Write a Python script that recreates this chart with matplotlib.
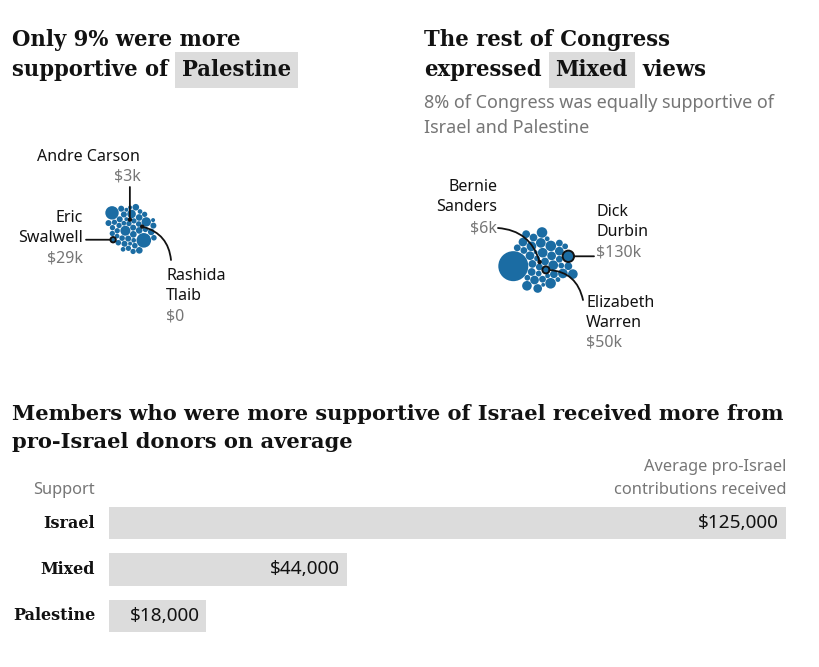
import numpy as np
import matplotlib
matplotlib.use("Agg")
import matplotlib.pyplot as plt
from matplotlib.patches import Circle

# ---------------- data ----------------
# Average pro-Israel contributions by support group
support_cats = ["Israel", "Mixed", "Palestine"]
avg_contrib = [125000, 44000, 18000]

# Pro-Israel contributions ($k) received by members more supportive of Palestine
palestine_vals = [36, 100, 28, 44, 22, 31, 36, 16, 44, 28, 28, 22, 36, 0, 31, 3,
                  213, 28, 44, 16, 36, 28, 22, 74, 31, 28, 88, 36, 16, 44, 28, 22,
                  28, 180, 36, 31, 16, 44, 28, 28, 22, 36, 31, 29, 44, 28, 36, 16]
palestine_named = {"Rashida Tlaib": 0, "Andre Carson": 3, "Eric Swalwell": 29}

# Pro-Israel contributions ($k) received by members with mixed views
mixed_vals = [60, 6, 93, 50, 33, 75, 46, 15, 93, 60, 112, 23, 75, 46, 33, 93,
              60, 900, 75, 46, 93, 33, 60, 23, 112, 46, 130, 75, 60, 93, 33, 46,
              15, 75, 60, 93, 112, 23, 46, 33, 75, 60, 93]
mixed_named = {"Bernie Sanders": 6, "Dick Durbin": 130, "Elizabeth Warren": 50}

# ---------------- style ----------------
W, H = 819, 667
BLUE = "#1b6ca3"
GREY_BAR = "#dcdcdc"
GREY_TXT = "#767676"
INK = "#121212"
SERIF = "DejaVu Serif"
SANS = "Noto Sans"


def pt(px):
    return px * 0.72


def radius(v):
    return np.maximum(1.2, 0.5 * np.sqrt(np.asarray(v, float)))


def resolve(x, y, r2, re, sweeps):
    n = len(x)
    for _ in range(sweeps):
        for k in range(n):
            dx = x - x[k]
            dy = y - y[k]
            d = np.hypot(dx, dy)
            d[k] = np.inf
            ov = re + re[k] - d
            m = ov > 0
            if not m.any():
                continue
            ux = dx[m] / d[m]
            uy = dy[m] / d[m]
            o = ov[m]
            wk = r2[m] / (r2[k] + r2[m])
            x[k] -= (o * wk * ux).sum()
            y[k] -= (o * wk * uy).sum()
            x[m] += o * (1 - wk) * ux
            y[m] += o * (1 - wk) * uy


def pack(vals, pad=0.35, spread=0.9, iters=80):
    """Greedy tangent packing towards phyllotaxis targets, then gentle compaction."""
    r = radius(vals)
    re = r + pad / 2
    n = len(r)
    idx = np.arange(n)
    R = np.sqrt((re ** 2).sum() / 0.82)
    s = spread * R / np.sqrt(n)
    a = idx * np.pi * (3 - np.sqrt(5))
    tx = s * np.sqrt(idx + 0.5) * np.cos(a)
    ty = s * np.sqrt(idx + 0.5) * np.sin(a)
    x = np.zeros(n)
    y = np.zeros(n)
    x[0], y[0] = tx[0], ty[0]
    for k in range(1, n):
        px, py, pr = x[:k], y[:k], re[:k] + re[k]
        vx, vy = tx[k] - px, ty[k] - py
        vn = np.hypot(vx, vy) + 1e-9
        cx = [px + vx / vn * pr]
        cy = [py + vy / vn * pr]
        if k >= 2:
            I, J = np.triu_indices(k, 1)
            dx, dy = px[J] - px[I], py[J] - py[I]
            d = np.hypot(dx, dy)
            A, B = pr[I], pr[J]
            ok = (d > 1e-9) & (d <= A + B)
            I, dx, dy, d, A, B = I[ok], dx[ok], dy[ok], d[ok], A[ok], B[ok]
            L = (A ** 2 - B ** 2 + d ** 2) / (2 * d)
            h = np.sqrt(np.clip(A ** 2 - L ** 2, 0, None))
            bx_ = px[I] + L * dx / d
            by_ = py[I] + L * dy / d
            ox, oy = -dy / d * h, dx / d * h
            cx += [bx_ + ox, bx_ - ox]
            cy += [by_ + oy, by_ - oy]
        cx = np.concatenate(cx)
        cy = np.concatenate(cy)
        dd = np.hypot(cx[:, None] - px[None, :], cy[:, None] - py[None, :])
        valid = (dd >= pr[None, :] - 1e-6).all(1)
        cx, cy = cx[valid], cy[valid]
        j = np.argmin(np.hypot(cx - tx[k], cy - ty[k]))
        x[k], y[k] = cx[j], cy[j]
    # compaction: circles drift to the centroid, big ones more slowly
    r2 = r ** 2
    mob = np.minimum(1.0, 3.0 / r) * 0.25
    for _ in range(iters):
        gx, gy = x.mean(), y.mean()
        dx, dy = gx - x, gy - y
        d = np.hypot(dx, dy) + 1e-9
        step = np.minimum(mob, d)
        x += dx / d * step
        y += dy / d * step
        resolve(x, y, r2, re, 2)
    resolve(x, y, r2, re, 15)
    ccx = ((x - r).min() + (x + r).max()) / 2
    ccy = ((y - r).min() + (y + r).max()) / 2
    return x - ccx, y - ccy, r


fig = plt.figure(figsize=(W / 100, H / 100), dpi=100)
ax = fig.add_axes([0, 0, 1, 1])
ax.set_xlim(0, W)
ax.set_ylim(H, 0)
ax.axis("off")


def draw_cluster(vals, named, cx, cy):
    x, y, r = pack(vals)
    pos = {}
    for k in range(len(vals)):
        ax.add_patch(Circle((cx + x[k], cy + y[k]), r[k], fc=BLUE, ec="none", zorder=2))
    for name, v in named.items():
        k = vals.index(v)
        ax.add_patch(Circle((cx + x[k], cy + y[k]), r[k], fc=BLUE, ec=INK, lw=1.4, zorder=3))
        pos[name] = (cx + x[k], cy + y[k], r[k])
    return pos


def txt(x, y, s, size, color=INK, ha="left", family=SANS, weight="normal", **kw):
    return ax.text(x, y, s, fontsize=pt(size), color=color, ha=ha, va="baseline",
                   family=family, fontweight=weight, **kw)


def leader(p, xy_text, rad=0.0):
    ax.annotate("", xy=(p[0], p[1]), xytext=xy_text,
                arrowprops=dict(arrowstyle="-", color=INK, lw=1.3, shrinkA=0,
                                shrinkB=pt(p[2]), connectionstyle=f"arc3,rad={rad}"),
                zorder=4)


TITLE_KW = dict(family=SERIF, weight="bold", fontstretch="condensed")


def title_with_highlight(x, y, before, word, after, size):
    t1 = txt(x, y, before, size, **TITLE_KW)
    fig.canvas.draw()
    rend = fig.canvas.get_renderer()
    bb = t1.get_window_extent(rend)
    xe = ax.transData.inverted().transform((bb.x1, 0))[0]
    t2 = txt(xe + 14, y, word, size,
             bbox=dict(boxstyle="square,pad=0.3", fc=GREY_BAR, ec="none"), **TITLE_KW)
    if after:
        fig.canvas.draw()
        bb2 = t2.get_window_extent(rend)
        xe2 = ax.transData.inverted().transform((bb2.x1, 0))[0]
        txt(xe2 + 14, y, after, size, **TITLE_KW)


# ---- panel 1: Palestine ----
TS = 23.5
txt(12, 46, "Only 9% were more", TS, **TITLE_KW)
title_with_highlight(12, 76, "supportive of", "Palestine", "", TS)

p1 = draw_cluster(palestine_vals, palestine_named, 131, 229)
NS = 16
txt(140, 161, "Andre Carson", NS, ha="right")
txt(141, 181, "$3k", NS, color=GREY_TXT, ha="right")
c = p1["Andre Carson"]
leader(c, (c[0], 187))
txt(83, 222, "Eric", NS, ha="right")
txt(83, 242, "Swalwell", NS, ha="right")
txt(83, 262, "$29k", NS, color=GREY_TXT, ha="right")
c = p1["Eric Swalwell"]
leader(c, (86, c[1]))
txt(166, 280, "Rashida", NS)
txt(166, 300, "Tlaib", NS)
txt(166, 320, "$0", NS, color=GREY_TXT)
c = p1["Rashida Tlaib"]
leader(c, (171, 260), rad=0.35)

# ---- panel 2: Mixed ----
txt(424, 46, "The rest of Congress", TS, **TITLE_KW)
title_with_highlight(424, 76, "expressed", "Mixed", "views", TS)
txt(424, 108, "8% of Congress was equally supportive of", 18, color=GREY_TXT)
txt(424, 133, "Israel and Palestine", 18, color=GREY_TXT)

p2 = draw_cluster(mixed_vals, mixed_named, 538, 260)
txt(497, 191, "Bernie", NS, ha="right")
txt(497, 211, "Sanders", NS, ha="right")
txt(497, 232, "$6k", NS, color=GREY_TXT, ha="right")
c = p2["Bernie Sanders"]
leader(c, (498, 228), rad=-0.35)
txt(597, 216, "Dick", NS)
txt(597, 236, "Durbin", NS)
txt(596, 256, "$130k", NS, color=GREY_TXT)
c = p2["Dick Durbin"]
leader(c, (594, c[1]))
txt(586, 307, "Elizabeth", NS)
txt(586, 327, "Warren", NS)
txt(586, 347, "$50k", NS, color=GREY_TXT)
c = p2["Elizabeth Warren"]
leader(c, (583, 300), rad=0.4)

# ---- bottom: bar chart ----
BT = 21
txt(12, 420, "Members who were more supportive of Israel received more from", BT,
    family=SERIF, weight="bold")
txt(12, 448, "pro-Israel donors on average", BT, family=SERIF, weight="bold")
txt(786, 471, "Average pro-Israel", 16.4, color=GREY_TXT, ha="right")
txt(786, 494, "contributions received", 16.4, color=GREY_TXT, ha="right")
txt(95, 494, "Support", 16.4, color=GREY_TXT, ha="right")

bx = fig.add_axes([109 / W, (H - 632) / H, (786 - 109) / W, 125 / H])
ypos = np.arange(len(support_cats))
bx.barh(ypos, avg_contrib, height=0.69, color=GREY_BAR)
bx.set_xlim(0, max(avg_contrib))
bx.set_ylim(len(support_cats) - 1 + 0.345, -0.345)
bx.axis("off")
for yi, (cat, v) in enumerate(zip(support_cats, avg_contrib)):
    bx.annotate(f"${v:,}", xy=(v, yi), xytext=(-pt(7), 0), textcoords="offset points",
                ha="right", va="center", fontsize=pt(19), color=INK, family=SANS)
    bx.annotate(cat, xy=(0, yi), xytext=(-pt(14), 0), textcoords="offset points",
                ha="right", va="center", fontsize=pt(16), color=INK, family=SERIF,
                fontweight="bold", annotation_clip=False)

fig.savefig("out.png", dpi=100)
